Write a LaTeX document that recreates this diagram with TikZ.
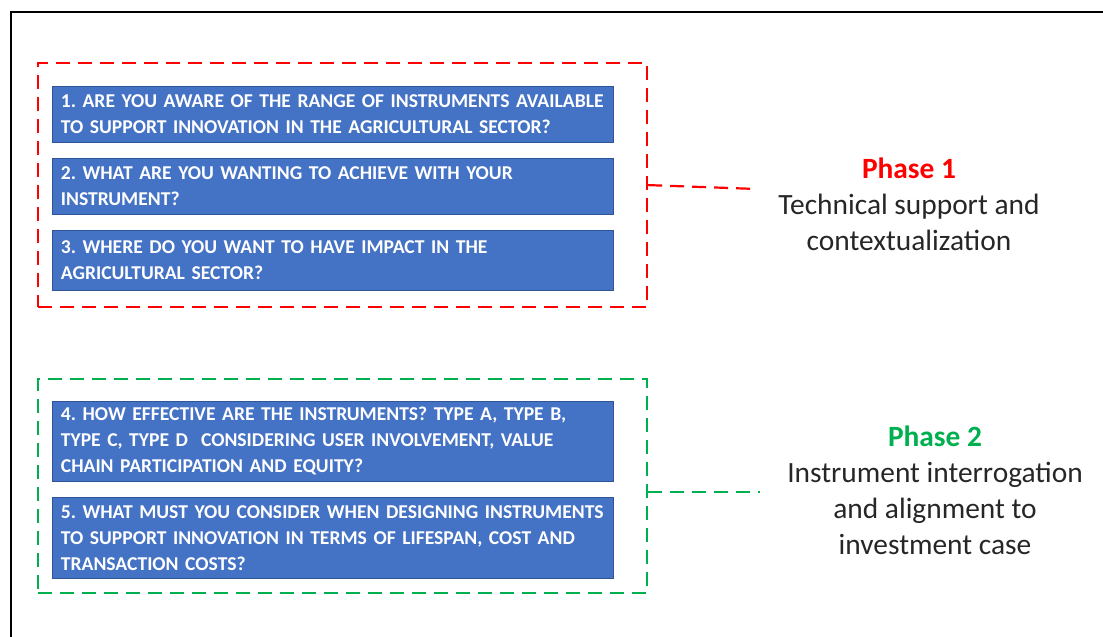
\documentclass[tikz,border=0pt]{standalone}
\usepackage{fontspec}
\setmainfont{Carlito}
\usetikzlibrary{positioning}

\definecolor{qblue}{HTML}{4472C4}
\definecolor{qedge}{HTML}{2F5597}
\definecolor{phred}{HTML}{FF0000}
\definecolor{phgreen}{HTML}{00B050}

\newcommand{\qfont}{\bfseries\fontsize{9.8}{13}\selectfont\frenchspacing
  \spaceskip=0.17em plus 0.05em minus 0.05em\relax
  \hyphenpenalty=10000\relax\exhyphenpenalty=10000\relax}

\begin{document}
\begin{tikzpicture}[x=0.5pt,
    y=-0.5pt,
    node distance=7.5pt,
    question/.style={draw=qedge, line width=0.4pt, fill=qblue, text=white,
      font=\qfont, align=left, text width=272pt,
      inner xsep=4.25pt, inner ysep=0pt},
    phaseframe/.style={dash pattern=on 7pt off 4pt, line width=1.1pt,
      minimum width=304.5pt, inner sep=0pt, anchor=north west},
    phaselink/.style={dash pattern=on 7pt off 4pt, line width=1.1pt},
    phasetext/.style={align=center, text=black!85,
      font=\fontsize{14.7}{18}\selectfont}]
  \useasboundingbox (0,0) rectangle (1103,637);

  % outer frame
  \draw[line width=0.9pt] (11,637) -- (11,12) -- (1103,12);

  % phase 1
  \node (frame1) [phaseframe, draw=phred, minimum height=122pt] at (37,62) {};
  \node (q1) [question, anchor=north west, minimum height=28pt] at (52,86)
    {1. ARE YOU AWARE OF THE RANGE OF INSTRUMENTS AVAILABLE\\
     TO SUPPORT INNOVATION IN THE AGRICULTURAL SECTOR?};
  \node (q2) [question, below=of q1, minimum height=28pt]
    {2. WHAT ARE YOU WANTING TO ACHIEVE WITH YOUR\\
     INSTRUMENT?};
  \node (q3) [question, below=of q2, minimum height=30pt]
    {3. WHERE DO YOU WANT TO HAVE IMPACT IN THE\\
     AGRICULTURAL SECTOR?};

  \node (phase1) [phasetext] at (909,204)
    {\textcolor{phred}{\bfseries Phase 1}\\
     Technical support and\\
     contextualization};
  \coordinate (p1end) at (757,189);
  \draw[phaselink, phred] (frame1.east) -- (p1end);

  % phase 2
  \node (frame2) [phaseframe, draw=phgreen, minimum height=107pt] at (37,378) {};
  \node (q4) [question, anchor=north west, minimum height=40pt] at (52,401)
    {4. HOW EFFECTIVE ARE THE INSTRUMENTS? TYPE A, TYPE B,\\
     TYPE C, TYPE D\ \ CONSIDERING USER INVOLVEMENT, VALUE\\
     CHAIN PARTICIPATION AND EQUITY?};
  \node (q5) [question, below=of q4, minimum height=40.5pt]
    {5. WHAT MUST YOU CONSIDER WHEN DESIGNING INSTRUMENTS\\
     TO SUPPORT INNOVATION IN TERMS OF LIFESPAN, COST AND\\
     TRANSACTION COSTS?};

  \node (phase2) [phasetext] at (935,490)
    {\textcolor{phgreen}{\bfseries Phase 2}\\
     Instrument interrogation\\
     and alignment to\\
     investment case};
  \coordinate (p2end) at (760,492);
  \draw[phaselink, phgreen] (frame2.east |- p2end) -- (p2end);
\end{tikzpicture}
\end{document}
